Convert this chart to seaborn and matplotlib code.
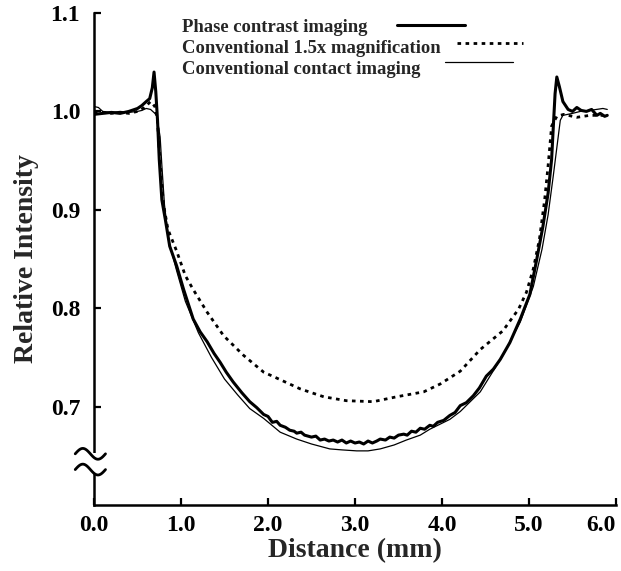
import numpy as np
import pandas as pd
import seaborn as sns
import matplotlib.pyplot as plt
from matplotlib.patches import Rectangle

# --- DATA ---
phase_x = [0.00, 0.10, 0.20, 0.30, 0.40, 0.50, 0.55, 0.60, 0.64, 0.67, 0.69, 0.71, 0.73, 0.75,
           0.78, 0.82, 0.87, 0.95, 1.03, 1.14, 1.22, 1.30, 1.38, 1.45, 1.52, 1.60, 1.70, 1.79,
           1.87, 1.95, 2.00, 2.05, 2.10, 2.14, 2.20, 2.25, 2.30, 2.33, 2.38, 2.42, 2.46, 2.50,
           2.55, 2.60, 2.65, 2.70, 2.75, 2.80, 2.85, 2.90, 2.95, 3.00, 3.05, 3.10, 3.15, 3.20,
           3.25, 3.29, 3.35, 3.40, 3.45, 3.50, 3.56, 3.60, 3.65, 3.70, 3.75, 3.80, 3.86, 3.90,
           3.95, 4.02, 4.09, 4.15, 4.21, 4.28, 4.36, 4.43, 4.51, 4.59, 4.67, 4.78, 4.90, 5.01,
           5.09, 5.16, 5.22, 5.26, 5.28, 5.30, 5.32, 5.35, 5.39, 5.45, 5.50, 5.55, 5.60, 5.66,
           5.72, 5.78, 5.82, 5.87, 5.90]
phase_y = [0.997, 0.998, 0.999, 0.998, 1.000, 1.003, 1.006, 1.010, 1.013, 1.024, 1.040, 1.020,
           0.991, 0.951, 0.910, 0.890, 0.863, 0.843, 0.819, 0.789, 0.776, 0.766, 0.754, 0.745,
           0.735, 0.725, 0.714, 0.705, 0.699, 0.692, 0.690, 0.684, 0.685, 0.681, 0.679, 0.676,
           0.675, 0.673, 0.674, 0.671, 0.670, 0.669, 0.670, 0.666, 0.667, 0.665, 0.666, 0.664,
           0.666, 0.663, 0.665, 0.663, 0.664, 0.662, 0.665, 0.663, 0.665, 0.667, 0.666, 0.669,
           0.668, 0.671, 0.672, 0.671, 0.675, 0.674, 0.678, 0.677, 0.681, 0.680, 0.684, 0.686,
           0.691, 0.694, 0.701, 0.704, 0.711, 0.719, 0.731, 0.738, 0.748, 0.765, 0.789, 0.814,
           0.850, 0.883, 0.917, 0.951, 0.985, 1.018, 1.035, 1.025, 1.010, 1.002, 1.000, 1.004,
           1.001, 1.000, 1.002, 0.996, 0.998, 0.995, 0.996]

magnif_x = [0.00, 0.10, 0.20, 0.30, 0.40, 0.50, 0.58, 0.65, 0.70, 0.73, 0.75, 0.78, 0.80, 0.85,
            0.95, 1.05, 1.14, 1.30, 1.49, 1.72, 1.95, 2.10, 2.37, 2.64, 2.90, 3.21, 3.48, 3.79,
            3.98, 4.21, 4.44, 4.70, 4.88, 4.97, 5.05, 5.12, 5.18, 5.22, 5.26, 5.32, 5.40, 5.55,
            5.70, 5.90]
magnif_y = [0.998, 0.999, 0.998, 0.999, 0.998, 1.000, 1.004, 1.010, 1.005, 0.990, 0.960, 0.925,
            0.905, 0.880, 0.858, 0.833, 0.819, 0.796, 0.772, 0.752, 0.735, 0.729, 0.718, 0.710,
            0.706, 0.705, 0.710, 0.715, 0.723, 0.736, 0.758, 0.777, 0.799, 0.816, 0.840, 0.870,
            0.910, 0.945, 0.985, 0.995, 0.997, 0.994, 0.996, 0.996]

contact_x = [0.00, 0.05, 0.10, 0.20, 0.30, 0.40, 0.50, 0.55, 0.60, 0.65, 0.70, 0.72, 0.76, 0.78,
             0.81, 0.86, 0.95, 1.05, 1.20, 1.35, 1.50, 1.65, 1.79, 1.95, 2.14, 2.33, 2.50, 2.71,
             2.85, 3.02, 3.15, 3.29, 3.45, 3.59, 3.75, 3.86, 4.09, 4.21, 4.44, 4.70, 4.90, 5.05,
             5.15, 5.22, 5.28, 5.33, 5.36, 5.39, 5.50, 5.59, 5.70, 5.85, 5.90]
contact_y = [1.005, 1.004, 1.000, 0.999, 1.000, 0.999, 1.000, 1.001, 1.003, 1.002, 0.998, 0.996,
             0.974, 0.945, 0.905, 0.868, 0.838, 0.807, 0.775, 0.750, 0.728, 0.712, 0.698, 0.688,
             0.674, 0.667, 0.662, 0.657, 0.656, 0.655, 0.655, 0.657, 0.661, 0.666, 0.671, 0.677,
             0.687, 0.695, 0.715, 0.752, 0.786, 0.822, 0.860, 0.895, 0.935, 0.970, 0.991, 0.996,
             0.998, 1.000, 1.001, 1.003, 1.002]

series_names = ['Phase contrast imaging', 'Conventional 1.5x magnification',
                'Conventional contact imaging']
x_ticks = [0, 1, 2, 3, 4, 5, 6]
y_ticks = [0.7, 0.8, 0.9, 1.0, 1.1]

# --- STYLE ---
sns.set_style("ticks")
plt.rcParams['font.family'] = ['Liberation Serif', 'DejaVu Serif']
plt.rcParams['font.weight'] = 'bold'

df = pd.concat([
    pd.DataFrame({'Distance': phase_x, 'Intensity': phase_y, 'Series': series_names[0]}),
    pd.DataFrame({'Distance': magnif_x, 'Intensity': magnif_y, 'Series': series_names[1]}),
    pd.DataFrame({'Distance': contact_x, 'Intensity': contact_y, 'Series': series_names[2]}),
])

styles = {
    series_names[0]: dict(lw=2.2, ls='-'),
    series_names[1]: dict(lw=2.0, ls=(0, (1.3, 1.6))),
    series_names[2]: dict(lw=0.9, ls='-'),
}

fig, ax = plt.subplots(figsize=(6.21, 5.71), dpi=100)
fig.subplots_adjust(left=0.1514, right=0.9919, bottom=0.1156, top=0.9772)

for name in series_names:
    sns.lineplot(data=df[df['Series'] == name], x='Distance', y='Intensity', ax=ax,
                 color='black', linewidth=styles[name]['lw'], linestyle=styles[name]['ls'],
                 estimator=None, sort=False, legend=False)

ax.set_xlim(0, 6)
ax.set_ylim(0.6, 1.1)
ax.set_xticks(x_ticks)
ax.set_xticklabels([f"{v:.1f}" for v in x_ticks])
ax.set_yticks(y_ticks)
ax.set_yticklabels([f"{v:.1f}" for v in y_ticks])
ax.tick_params(direction='in', length=5, width=1.6, labelsize=17, colors='black')
ax.tick_params(axis='x', pad=7)
ax.tick_params(axis='y', pad=10)
ax.get_xticklabels()[-1].set_horizontalalignment('right')
for lab in ax.get_xticklabels() + ax.get_yticklabels():
    lab.set_fontweight('bold')

sns.despine(ax=ax)
for s in ['left', 'bottom']:
    ax.spines[s].set_linewidth(1.8)
    ax.spines[s].set_color('black')

ax.set_xlabel('Distance (mm)', fontsize=20, fontweight='bold', labelpad=2)
ax.set_ylabel('Relative Intensity', fontsize=20, fontweight='bold', labelpad=8)

# legend drawn by hand: text first, handle after it
leg_text_y = [0.970, 0.927, 0.886]
leg_line_y = [0.976, 0.939, 0.900]
leg_line_x = [(0.580, 0.711), (0.695, 0.822), (0.672, 0.803)]
for i, name in enumerate(series_names):
    ax.text(0.169, leg_text_y[i], name, transform=ax.transAxes, fontsize=13.4,
            fontweight='bold', ha='left', va='center')
    ax.plot(leg_line_x[i], [leg_line_y[i]] * 2, transform=ax.transAxes, color='black',
            lw=styles[name]['lw'], ls=styles[name]['ls'], clip_on=False)

# axis break mark on the y axis
ax.add_patch(Rectangle((-0.01, 0.632), 0.02, 0.021, transform=ax.get_yaxis_transform(),
                       facecolor='white', edgecolor='none', zorder=5, clip_on=False))
t = np.linspace(0, 1, 60)
for yc in [0.652, 0.636]:
    ax.plot(-0.036 + 0.058 * t, yc + 0.0055 * np.sin(2 * np.pi * t),
            transform=ax.get_yaxis_transform(), color='black', lw=2.0,
            clip_on=False, zorder=6)

fig.savefig('out.png', dpi=100)
